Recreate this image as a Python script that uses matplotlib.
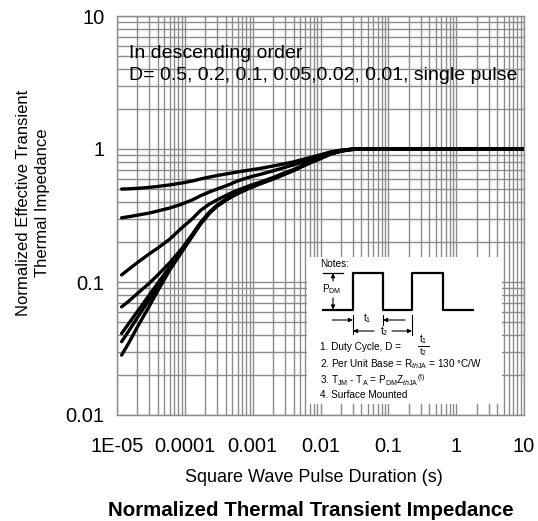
import numpy as np
import matplotlib
matplotlib.use("Agg")
import matplotlib.pyplot as plt
from matplotlib.ticker import LogLocator, NullFormatter, FixedLocator, FixedFormatter

plt.rcParams['font.family'] = ['Liberation Sans', 'DejaVu Sans']
plt.rcParams['mathtext.fontset'] = 'custom'
plt.rcParams['mathtext.rm'] = 'Liberation Sans'
plt.rcParams['mathtext.it'] = 'Liberation Sans:italic'
plt.rcParams['mathtext.bf'] = 'Liberation Sans:bold'

# ---- data ----
t_pts = [1.17e-5, 1.5e-5, 2e-5, 3e-5, 4e-5, 6e-5, 9e-5, 1.3e-4, 1.7e-4, 2.3e-4, 3e-4, 4.5e-4,
         6e-4, 9e-4, 1.3e-3, 2e-3, 2.8e-3, 4e-3, 5.5e-3, 7.5e-3, 1e-2, 1.4e-2, 2e-2, 2.8e-2,
         4e-2, 0.1, 1, 10]
z_d05 = [0.50, 0.502, 0.506, 0.515, 0.523, 0.537, 0.555, 0.575, 0.595, 0.615, 0.632, 0.655,
         0.672, 0.695, 0.715, 0.745, 0.77, 0.80, 0.835, 0.87, 0.905, 0.95, 0.98, 0.995,
         1.0, 1.0, 1.0, 1.0]
z_d02 = [0.304, 0.31, 0.318, 0.33, 0.342, 0.36, 0.385, 0.415, 0.445, 0.475, 0.50, 0.54,
         0.575, 0.615, 0.645, 0.685, 0.72, 0.76, 0.80, 0.85, 0.89, 0.94, 0.975, 0.995,
         1.0, 1.0, 1.0, 1.0]
z_d01 = [0.113, 0.125, 0.14, 0.163, 0.18, 0.21, 0.255, 0.30, 0.345, 0.385, 0.415, 0.46,
         0.49, 0.53, 0.565, 0.61, 0.655, 0.70, 0.755, 0.81, 0.86, 0.925, 0.97, 0.993,
         1.0, 1.0, 1.0, 1.0]
z_d005 = [0.065, 0.072, 0.082, 0.098, 0.113, 0.14, 0.178, 0.23, 0.28, 0.335, 0.38, 0.435,
          0.47, 0.515, 0.555, 0.60, 0.645, 0.695, 0.75, 0.805, 0.855, 0.92, 0.967, 0.992,
          1.0, 1.0, 1.0, 1.0]
z_d002 = [0.041, 0.049, 0.06, 0.08, 0.098, 0.13, 0.173, 0.226, 0.276, 0.332, 0.376, 0.43,
          0.466, 0.512, 0.552, 0.598, 0.642, 0.692, 0.747, 0.802, 0.852, 0.918, 0.965, 0.991,
          1.0, 1.0, 1.0, 1.0]
z_d001 = [0.0356, 0.043, 0.054, 0.074, 0.093, 0.127, 0.171, 0.224, 0.274, 0.33, 0.374, 0.428,
          0.464, 0.51, 0.55, 0.596, 0.64, 0.69, 0.745, 0.80, 0.85, 0.917, 0.965, 0.991,
          1.0, 1.0, 1.0, 1.0]
z_single = [0.0282, 0.035, 0.046, 0.066, 0.086, 0.123, 0.168, 0.222, 0.272, 0.328, 0.372, 0.426,
            0.462, 0.508, 0.548, 0.594, 0.638, 0.688, 0.743, 0.798, 0.848, 0.915, 0.963, 0.99,
            1.0, 1.0, 1.0, 1.0]
series = [z_d05, z_d02, z_d01, z_d005, z_d002, z_d001, z_single]

x_ticks = [1e-5, 1e-4, 1e-3, 1e-2, 1e-1, 1, 10]
x_ticklabels = ['1E-05', '0.0001', '0.001', '0.01', '0.1', '1', '10']
y_ticks = [0.01, 0.1, 1, 10]
y_ticklabels = ['0.01', '0.1', '1', '10']

W, H = 538, 521
fig = plt.figure(figsize=(W / 100, H / 100), dpi=100)
ax = fig.add_axes([117 / W, 1 - 415 / H, (524 - 117) / W, (415 - 16) / H])
ax.set_xscale('log')
ax.set_yscale('log')
ax.set_xlim(1e-5, 10)
ax.set_ylim(0.01, 10)

ax.xaxis.set_major_locator(FixedLocator(x_ticks))
ax.xaxis.set_major_formatter(FixedFormatter(x_ticklabels))
ax.yaxis.set_major_locator(FixedLocator(y_ticks))
ax.yaxis.set_major_formatter(FixedFormatter(y_ticklabels))
ax.xaxis.set_minor_locator(LogLocator(base=10, subs=np.arange(2, 10), numticks=20))
ax.yaxis.set_minor_locator(LogLocator(base=10, subs=np.arange(2, 10), numticks=20))
ax.xaxis.set_minor_formatter(NullFormatter())
ax.yaxis.set_minor_formatter(NullFormatter())
ax.tick_params(which='both', length=0, labelsize=14.5)
ax.tick_params(axis='y', pad=9)
ax.tick_params(axis='x', pad=16)
ax.grid(True, which='both', color='#8c8c8c', linewidth=1.0)
ax.set_axisbelow(True)
for s in ax.spines.values():
    s.set_color('#8c8c8c')
    s.set_linewidth(1.0)

for z in series:
    ax.plot(t_pts, z, color='black', linewidth=2.4, solid_capstyle='round',
            solid_joinstyle='round', zorder=3)

fig.text(129 / W, 1 - 54 / H, 'In descending order', fontsize=14, va='center', ha='left')
fig.text(129 / W, 1 - 75 / H, 'D= 0.5, 0.2, 0.1, 0.05,0.02, 0.01, single pulse', fontsize=14,
         va='center', ha='left')

fig.text(314 / W, 1 - 477 / H, 'Square Wave Pulse Duration (s)', fontsize=13,
         ha='center', va='center')
fig.text(311 / W, 1 - 510 / H, 'Normalized Thermal Transient Impedance', fontsize=14.8,
         fontweight='bold', ha='center', va='center')
fig.text(33 / W, 1 - 203 / H, 'Normalized Effective Transient\nThermal Impedance', fontsize=12,
         rotation=90, ha='center', va='center', multialignment='center', linespacing=1.35)

# ---- notes inset (pixel coordinates) ----
nx0, nx1, ny0, ny1 = 307, 502, 257, 404
nax = fig.add_axes([nx0 / W, 1 - ny1 / H, (nx1 - nx0) / W, (ny1 - ny0) / H])
nax.set_xlim(nx0, nx1)
nax.set_ylim(ny1, ny0)
nax.axis('off')
nax.add_patch(plt.Rectangle((nx0, ny0), nx1 - nx0, ny1 - ny0, facecolor='white', edgecolor='none'))
fs = 7.2
ap = dict(arrowstyle='-|>', lw=0.8, color='black', mutation_scale=6, shrinkA=0, shrinkB=0)
nax.text(320, 264, 'Notes:', fontsize=fs, va='center', ha='left')
base, top = 310, 272.7
wx = [323, 353, 353, 383, 383, 412, 412, 443, 443, 473]
wy = [base, base, top, top, base, base, top, top, base, base]
nax.plot(wx, wy, color='black', linewidth=1.6)
nax.plot([323, 343], [top, top], color='black', linewidth=0.9)
nax.annotate('', xy=(333, top + 0.5), xytext=(333, 281), arrowprops=ap)
nax.annotate('', xy=(333, base - 0.5), xytext=(333, 298), arrowprops=ap)
nax.text(322, 289, r'$\mathrm{P_{DM}}$', fontsize=fs, va='center', ha='left')
# t1 / t2 dimension marks
nax.plot([353, 353], [315, 334], color='black', linewidth=0.8)
nax.plot([383, 383], [315, 325], color='black', linewidth=0.8)
nax.plot([412, 412], [315, 335], color='black', linewidth=0.8)
nax.annotate('', xy=(353, 320), xytext=(332, 320), arrowprops=ap)
nax.annotate('', xy=(383, 320), xytext=(405, 320), arrowprops=ap)
nax.text(367, 318.5, r'$\mathrm{t_1}$', fontsize=fs, va='center', ha='center')
nax.annotate('', xy=(353, 331), xytext=(374, 331), arrowprops=ap)
nax.annotate('', xy=(412, 331), xytext=(392, 331), arrowprops=ap)
nax.text(384, 331, r'$\mathrm{t_2}$', fontsize=fs, va='center', ha='center')
nax.text(320, 347, '1. Duty Cycle, D = ', fontsize=fs, va='center', ha='left')
nax.text(423, 339, r'$\mathrm{t_1}$', fontsize=fs, va='center', ha='center')
nax.plot([418, 429], [346.5, 346.5], color='black', linewidth=0.7)
nax.text(423, 352.5, r'$\mathrm{t_2}$', fontsize=fs - 0.5, va='center', ha='center')
nax.text(320, 364.5, r'2. Per Unit Base = R$_{\mathit{th}\mathrm{JA}}$ = 130 °C/W', fontsize=fs,
         va='center', ha='left')
nax.text(320, 380, r'3. T$_{\mathrm{JM}}$ - T$_{\mathrm{A}}$ = P$_{\mathrm{DM}}$Z$_{\mathit{th}\mathrm{JA}}$$^{\mathrm{(t)}}$',
         fontsize=fs, va='center', ha='left')
nax.text(320, 395.5, '4. Surface Mounted', fontsize=fs, va='center', ha='left')

fig.savefig('out.png', dpi=100, facecolor='white')
